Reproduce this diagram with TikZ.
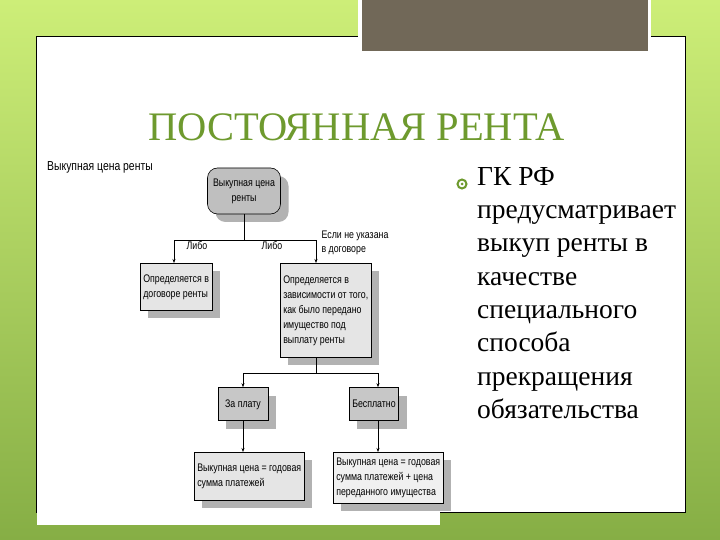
\documentclass[tikz,border=0pt]{standalone}
\usepackage{fontspec}
\usepackage{graphicx}
\setmainfont{Liberation Serif}
\newfontfamily\narrow{Liberation Sans}
\newcommand\nt[2][l]{\scalebox{0.8}[1]{\begin{tabular}{@{}#1@{}}#2\end{tabular}}}
\usetikzlibrary{arrows.meta,shadows}
\definecolor{bgtop}{HTML}{CDEE78}
\definecolor{bgbot}{HTML}{86AE45}
\definecolor{ttl}{HTML}{6E9A2E}
\definecolor{brn}{HTML}{716858}
\tikzset{
 box/.style={draw=black,line width=0.6pt,fill=#1,inner sep=3pt,font=\narrow\fontsize{11}{15}\selectfont,
   drop shadow={shadow xshift=8pt,shadow yshift=-8pt,fill=black!30,opacity=1}},
 lbl/.style={font=\narrow\fontsize{11}{14}\selectfont,inner sep=0pt},
 con/.style={line width=0.6pt},
 arr/.style={line width=0.6pt,-{Stealth[length=4pt,width=3pt]}},
}
\begin{document}
\begin{tikzpicture}[x=1pt,y=-1pt]
\useasboundingbox (0,0) rectangle (720,540);
\shade[top color=bgtop,bottom color=bgbot] (0,0) rectangle (720,540);
\fill[white] (36,36) rectangle (685,512);
\draw[black,line width=0.8pt] (36,36) rectangle (685,512);
\fill[white] (37,150) rectangle (440,525);
\fill[white] (358,0) rectangle (651,55);
\fill[brn] (362,0) rectangle (648,51);
\node[text=ttl,font=\fontsize{40.5}{45}\selectfont,anchor=west,inner sep=0pt] (title) at (148,127) {ПОСТОЯННАЯ РЕНТА};
% bullet
\node[circle,draw=ttl,line width=2pt,minimum size=9pt,inner sep=0pt,fill=white] (bul) at (462,184) {};
\node[circle,fill=ttl,minimum size=3pt,inner sep=0pt] (bul2) at (bul) {};
\node[anchor=north west,align=left,font=\fontsize{27.5}{33.3}\selectfont,inner sep=0pt] (txt) at (477,167) {ГК РФ\\предусматривает\\выкуп ренты в\\качестве\\специального\\способа\\прекращения\\обязательства};
% diagram
\node[lbl,anchor=west,font=\narrow\fontsize{13}{14}\selectfont] (head) at (47,168) {\nt{Выкупная цена ренты}};
\node[box=black!25,rounded corners=10pt,minimum width=73pt,minimum height=46pt] (top) at (244,191) {\nt[c]{Выкупная цена\\ренты}};
\node[box=black!10,anchor=north west,minimum width=67pt,minimum height=47pt] (L) at (140,263) {\nt{Определяется в\\договоре ренты}};
\node[box=black!10,anchor=north west,minimum width=75pt,minimum height=94pt,anchor=north west] (R) at (280,263) {\nt{Определяется в\\зависимости от того,\\как было передано\\имущество под\\выплату ренты}};
\node[box=black!22,minimum width=50pt,minimum height=33pt] (pay) at (243,404) {\nt{За плату}};
\node[box=black!22,minimum width=47pt,minimum height=33pt] (free) at (374,404) {\nt{Бесплатно}};
\node[box=black!10,anchor=north west,minimum width=101pt,minimum height=48pt] (BL) at (194,452) {\nt{Выкупная цена = годовая\\сумма платежей}};
\node[box=black!6,anchor=north west,minimum width=94pt,minimum height=48pt] (BR) at (333,452) {\nt{Выкупная цена = годовая\\сумма платежей + цена\\переданного имущества}};
\coordinate (j1) at (244,240);
\coordinate (jl) at (174,240);
\coordinate (jr) at (316,240);
\draw[con] (top.south) -- (j1);
\draw[con] (jl) -- (jr);
\draw[arr] (jl) -- (L.north -| jl);
\draw[arr] (jr) -- (R.north -| jr);
\node[lbl] (l1) at (197,247) {\nt{Либо}};
\node[lbl] (l2) at (272,247) {\nt{Либо}};
\node[lbl] (l3) at (355,243) {\nt{Если не указана\\в договоре}};
\coordinate (k1) at (316,373);
\coordinate (kl) at (243,373);
\coordinate (kr) at (378,373);
\draw[con] (R.south -| k1) -- (k1);
\draw[con] (kl) -- (kr);
\draw[arr] (kl) -- (pay.north);
\draw[arr] (kr) -- (free.north -| kr);
\draw[arr] (pay.south) -- (BL.north -| pay);
\draw[arr] (free.south -| kr) -- (BR.north -| kr);
\end{tikzpicture}
\end{document}
